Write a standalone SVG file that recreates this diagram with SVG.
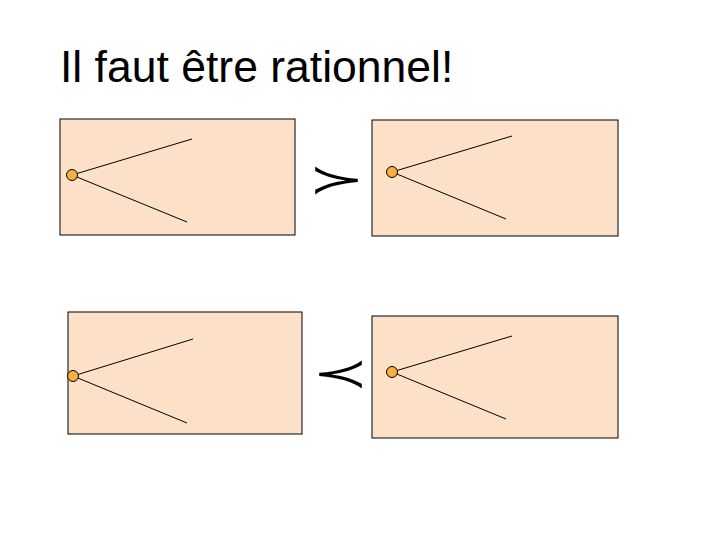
<svg xmlns="http://www.w3.org/2000/svg" width="720" height="540" viewBox="0 0 720 540">
<style>
.box{fill:#fde0c8;stroke:#000;stroke-width:1}
.ln{stroke:#000;stroke-width:1;fill:none}
.dot{fill:#f5b041;stroke:#000;stroke-width:1}
.sym{font-family:"DejaVu Serif",serif;font-size:40px;fill:#000}
</style>
<rect width="720" height="540" fill="#fff"/>
<text x="60" y="82" font-family="Liberation Sans, Arial, sans-serif" font-size="44.5" fill="#000">Il faut être rationnel!</text>
<g id="box1"><rect class="box" x="60" y="119" width="235" height="116"/><path class="ln" d="M72 175 L192 139 M72 175 L187 222"/><circle class="dot" cx="72" cy="175" r="5.5"/></g>
<g id="box2"><rect class="box" x="372" y="120" width="246" height="116"/><path class="ln" d="M392 172 L512 136 M392 172 L506 219"/><circle class="dot" cx="392" cy="172" r="5.5"/></g>
<g id="box3"><rect class="box" x="68" y="312" width="234" height="122"/><path class="ln" d="M73 376 L193 339 M73 376 L187 423"/><circle class="dot" cx="73" cy="376" r="5.5"/></g>
<g id="box4"><rect class="box" x="372" y="316" width="246" height="122"/><path class="ln" d="M392 372 L512 336 M392 372 L506 419"/><circle class="dot" cx="392" cy="372" r="5.5"/></g>
<g id="connectors">
<text class="sym" text-anchor="middle" transform="translate(337,193) scale(1.7,1)">≻</text>
<text class="sym" text-anchor="middle" transform="translate(341,387) scale(1.7,1)">≺</text>
</g>
</svg>
